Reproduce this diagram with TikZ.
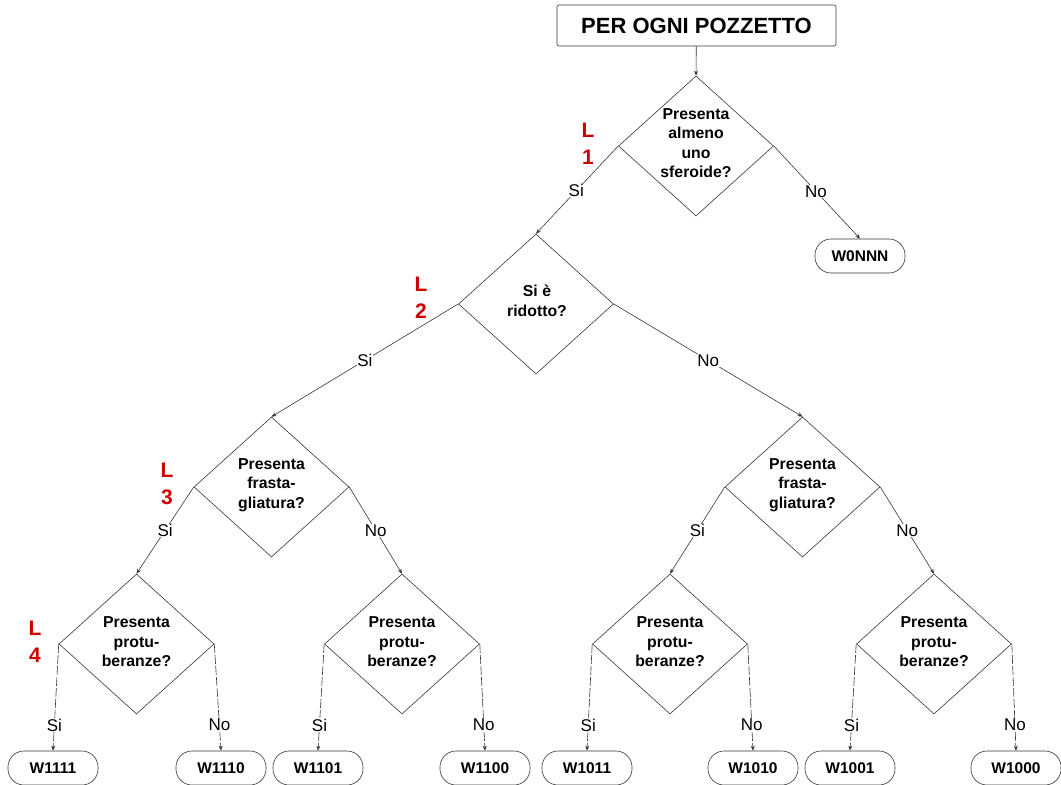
\documentclass[tikz,border=0pt]{standalone}
\usepackage{fontspec}
\setmainfont{Liberation Sans}
\usetikzlibrary{shapes.geometric,arrows.meta}
\definecolor{lred}{RGB}{204,0,0}
\definecolor{lgray}{RGB}{55,55,55}
\begin{document}
\begin{tikzpicture}[x=1pt,y=-1pt,
  dia/.style={draw=lgray,line width=0.6pt,shape=diamond,minimum width=155pt,minimum height=140pt,inner sep=0pt,aspect=1.107},
  qtext/.style={align=center,inner sep=0pt,font=\bfseries\fontsize{15.8}{19.5}\selectfont},
  term/.style={draw=lgray,line width=0.6pt,rounded corners=16pt,minimum width=90pt,minimum height=34pt,inner sep=0pt,font=\bfseries\fontsize{15.5}{18}\selectfont},
  conn/.style={draw=lgray,line width=0.6pt,-{Stealth[length=5pt,width=4pt]}},
  dconn/.style={conn,dash pattern=on 9pt off 2pt},
  lab/.style={fill=white,inner sep=0.5pt,font=\fontsize{17}{19}\selectfont},
  lev/.style={align=center,text=lred,inner sep=0pt,font=\bfseries\fontsize{21}{27}\selectfont}
]
\useasboundingbox (0,0) rectangle (1061,785);
\fill[white] (0,0) rectangle (1061,785);

% title
\node[draw=lgray,line width=0.6pt,rounded corners=2pt,minimum width=279pt,minimum height=41pt,inner sep=0pt,font=\bfseries\fontsize{22}{24}\selectfont] (top) at (696.5,25.5) {PER OGNI POZZETTO};

% diamonds
\node[dia] (d1) at (696,146) {};
\node[qtext] (d1t) at (696,143) {Presenta\\almeno\\uno\\sferoide?};
\node[dia] (d2) at (536,304) {};
\node[qtext] (d2t) at (537,301) {Si è\\ridotto?};
\node[dia] (d3l) at (271.5,487) {};
\node[qtext] (d3lt) at (271.5,485) {Presenta\\frasta-\\gliatura?};
\node[dia] (d3r) at (802.5,487) {};
\node[qtext] (d3rt) at (802.5,485) {Presenta\\frasta-\\gliatura?};
\node[dia] (d4a) at (136.5,644) {};
\node[qtext] (d4at) at (136.5,642) {Presenta\\protu-\\beranze?};
\node[dia] (d4b) at (402,644) {};
\node[qtext] (d4bt) at (402,642) {Presenta\\protu-\\beranze?};
\node[dia] (d4c) at (670,644) {};
\node[qtext] (d4ct) at (670,642) {Presenta\\protu-\\beranze?};
\node[dia] (d4d) at (934,644) {};
\node[qtext] (d4dt) at (934,642) {Presenta\\protu-\\beranze?};

% terminals
\node[term] (w0) at (860,256) {W0NNN};
\node[term] (w1111) at (53,768) {W1111};
\node[term] (w1110) at (221,768) {W1110};
\node[term] (w1101) at (318,768) {W1101};
\node[term] (w1100) at (485,768) {W1100};
\node[term] (w1011) at (587,768) {W1011};
\node[term] (w1010) at (753,768) {W1010};
\node[term] (w1001) at (850,768) {W1001};
\node[term] (w1000) at (1016,768) {W1000};

% level labels
\node[lev] (l1) at (588,143.5) {L\\1};
\node[lev] (l2) at (421,298) {L\\2};
\node[lev] (l3) at (167,483.5) {L\\3};
\node[lev] (l4) at (35,642) {L\\4};

% connectors
\draw[conn] (top) -- (d1.north);
\draw[conn] (d1.west) -- node[lab,pos=0.51]{Si} (d2.north);
\draw[conn] (d1.east) -- node[lab,pos=0.49]{No} (w0.north);
\draw[conn] (d2.west) -- node[lab,pos=0.5]{Si} (d3l.north);
\draw[conn] (d2.east) -- node[lab,pos=0.5]{No} (d3r.north);
\draw[conn] (d3l.west) -- node[lab,pos=0.5]{Si} (d4a.north);
\draw[conn] (d3l.east) -- node[lab,pos=0.5]{No} (d4b.north);
\draw[conn] (d3r.west) -- node[lab,pos=0.5]{Si} (d4c.north);
\draw[conn] (d3r.east) -- node[lab,pos=0.5]{No} (d4d.north);

\draw[dconn] (d4a.west) -- node[lab,pos=0.76]{Si} (w1111.north);
\draw[dconn] (d4a.east) -- node[lab,pos=0.76]{No} (w1110.north);
\draw[dconn] (d4b.west) -- node[lab,pos=0.76]{Si} (w1101.north);
\draw[dconn] (d4b.east) -- node[lab,pos=0.76]{No} (w1100.north);
\draw[dconn] (d4c.west) -- node[lab,pos=0.76]{Si} (w1011.north);
\draw[dconn] (d4c.east) -- node[lab,pos=0.76]{No} (w1010.north);
\draw[dconn] (d4d.west) -- node[lab,pos=0.76]{Si} (w1001.north);
\draw[dconn] (d4d.east) -- node[lab,pos=0.76]{No} (w1000.north);
\end{tikzpicture}
\end{document}
